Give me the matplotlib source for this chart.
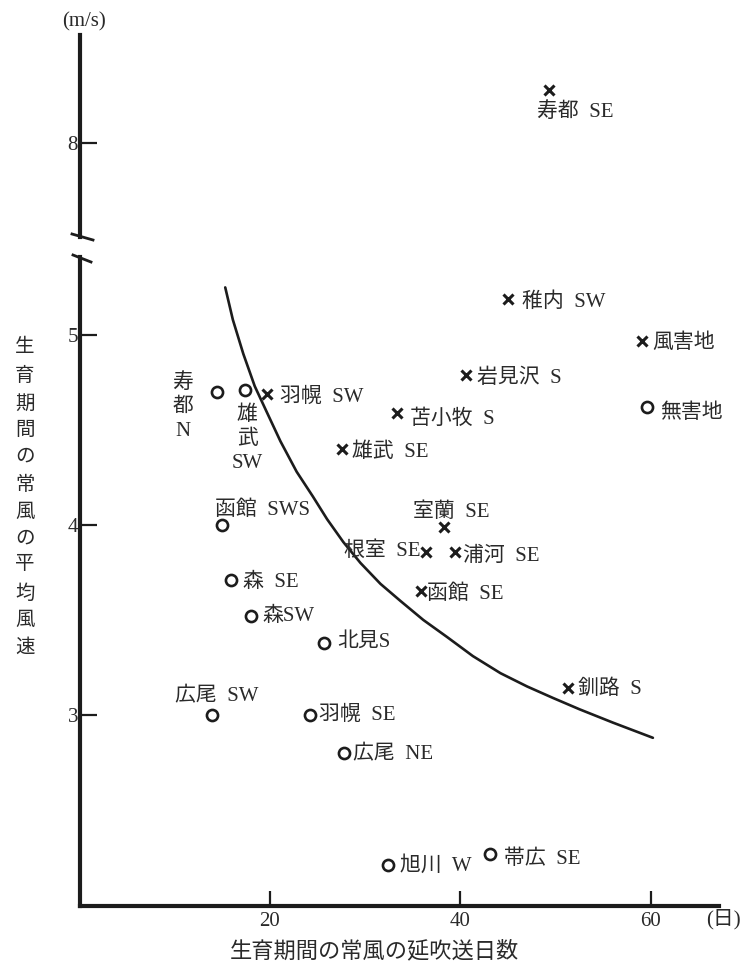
import matplotlib

matplotlib.use("Agg")
import matplotlib.pyplot as plt
from matplotlib.lines import Line2D

plt.rcParams["font.family"] = ["Liberation Serif", "Noto Sans CJK JP"]

# 風害地 (×): station + prevailing wind direction
damaged_labels = ["寿都  SE", "稚内  SW", "岩見沢  S", "苫小牧  S", "羽幌  SW", "雄武  SE",
                  "室蘭  SE", "根室  SE", "浦河  SE", "函館  SE", "釧路  S"]
damaged_days = [49.3, 45.0, 40.6, 33.3, 19.7, 27.6, 38.3, 36.4, 39.4, 35.9, 51.3]
damaged_speed = [8.28, 5.19, 4.79, 4.59, 4.69, 4.40, 3.99, 3.86, 3.86, 3.65, 3.14]

# 無害地 (○)
sound_labels = ["寿\n都\nN", "雄\n武\nSW", "函館  SWS", "森  SE", "森SW", "北見S",
                "広尾  SW", "羽幌  SE", "広尾  NE", "旭川  W", "帯広  SE"]
sound_days = [14.4, 17.4, 15.0, 15.9, 18.0, 25.7, 13.9, 24.2, 27.8, 32.4, 43.1]
sound_speed = [4.70, 4.71, 4.00, 3.71, 3.52, 3.38, 3.00, 3.00, 2.80, 2.21, 2.27]

# hand-fitted boundary curve
curve_days = [15.3, 16.1, 17.2, 18.4, 19.7, 21.1, 22.8, 24.5, 26.0, 27.7, 29.5,
              31.6, 33.7, 36.1, 38.6, 41.3, 44.2, 47.0, 49.7, 52.5, 56.0, 60.2]
curve_speed = [5.25, 5.08, 4.90, 4.73, 4.59, 4.44, 4.28, 4.15, 4.03, 3.91, 3.80,
               3.69, 3.60, 3.50, 3.41, 3.31, 3.22, 3.15, 3.09, 3.03, 2.96, 2.88]

y_ticks_low = [3, 4, 5]
y_ticks_high = [8]
x_ticks = [20, 40, 60]

# label offsets in pixels (dx, dy, ha)
damaged_offsets = [(-12, -22, "left"), (14, -3, "left"), (11, -3, "left"), (13, -6, "left"),
                   (13, -4, "left"), (10, -3, "left"), (-31, 15, "left"), (-6, 1, "right"),
                   (8, -5, "left"), (6, -3, "left"), (10, -1, "left")]
sound_offsets = [(-34, -15, "center"), (2, -49, "center"), (-7, 15, "left"), (12, -2, "left"),
                 (11, 0, "left"), (13, 0, "left"), (-37, 18, "left"), (9, 0, "left"),
                 (9, -2, "left"), (12, -1, "left"), (14, -5, "left")]

INK = "#1c1c1c"
TXT = "#2a2a2a"
W, H = 746, 977


def box(left, top, right, bottom):
    return [left / W, 1 - bottom / H, (right - left) / W, (bottom - top) / H]


fig = plt.figure(figsize=(W / 100, H / 100), dpi=100)
ax_lo = fig.add_axes(box(79.5, 257, 719, 906))
ax_hi = fig.add_axes(box(79.5, 35, 719, 237))

xmax = 67.14
ax_lo.set_xlim(0, xmax)
ax_hi.set_xlim(0, xmax)
ax_lo.set_ylim(1.995, 5.41)
ax_hi.set_ylim(7.505, 8.568)

for ax in (ax_lo, ax_hi):
    for side in ("top", "right", "bottom"):
        ax.spines[side].set_visible(False)
    ax.spines["left"].set_linewidth(3)
    ax.spines["left"].set_color(INK)
    ax.tick_params(axis="y", direction="in", length=12, width=1.6, pad=1,
                   labelsize=15, colors=INK, labelcolor=TXT)
    ax.patch.set_alpha(0)
ax_lo.spines["bottom"].set_visible(True)
ax_lo.spines["bottom"].set_linewidth(3)
ax_lo.spines["bottom"].set_color(INK)
ax_lo.set_yticks(y_ticks_low)
ax_hi.set_yticks(y_ticks_high)
ax_lo.set_xticks(x_ticks)
ax_lo.tick_params(axis="x", direction="in", length=11, width=1.6, pad=4,
                  labelsize=15, colors=INK, labelcolor=TXT)
ax_hi.set_xticks([])

# boundary curve
ax_lo.plot(curve_days, curve_speed, color=INK, lw=1.9, solid_capstyle="round",
           solid_joinstyle="round", clip_on=False)


def draw_points(days, speeds, labels, offsets, marker):
    for d, s, lab, (dx, dy, ha) in zip(days, speeds, labels, offsets):
        ax = ax_hi if s > 6 else ax_lo
        if marker == "x":
            ax.plot(d, s, marker="x", ms=7, mew=2.2, color=INK, ls="none")
        else:
            ax.plot(d, s, marker="o", ms=8, mew=1.9, mec=INK, mfc="white", ls="none")
        ax.annotate(lab, (d, s), xytext=(dx, dy), textcoords="offset pixels",
                    ha=ha, va="center", fontsize=15, color=TXT, linespacing=1.35)


draw_points(damaged_days, damaged_speed, damaged_labels, damaged_offsets, "x")
draw_points(sound_days, sound_speed, sound_labels, sound_offsets, "o")

# key
ax_lo.plot(0.8796, 0.8706, marker="x", ms=7, mew=2.2, color=INK, transform=ax_lo.transAxes)
ax_lo.annotate("風害地", (0.8796, 0.8706), xycoords="axes fraction", xytext=(10, -2),
               textcoords="offset pixels", ha="left", va="center", fontsize=15, color=TXT)
ax_lo.plot(0.8874, 0.7689, marker="o", ms=8, mew=1.9, mec=INK, mfc="white",
           transform=ax_lo.transAxes)
ax_lo.annotate("無害地", (0.8874, 0.7689), xycoords="axes fraction", xytext=(13, -6),
               textcoords="offset pixels", ha="left", va="center", fontsize=15, color=TXT)

# axis break marks
for (x0, y0, x1, y1) in [(72, 234, 93, 240), (73, 255, 91, 262)]:
    fig.add_artist(Line2D([x0 / W, x1 / W], [1 - y0 / H, 1 - y1 / H], color=INK, lw=2))

# units and axis titles
fig.text(84 / W, 1 - 22 / H, "(m/s)", ha="center", va="center", fontsize=15, color=TXT)
fig.text(723 / W, 1 - 919 / H, "(日)", ha="center", va="center", fontsize=15, color=TXT)
fig.text(374 / W, 1 - 951 / H, "生育期間の常風の延吹送日数", ha="center", va="center",
         fontsize=16, color=TXT)
fig.text(25 / W, 1 - 498 / H, "\n".join("生育期間の常風の平均風速"), ha="center", va="center",
         fontsize=14, color=TXT, linespacing=1.72)

fig.savefig("out.png", dpi=100)
